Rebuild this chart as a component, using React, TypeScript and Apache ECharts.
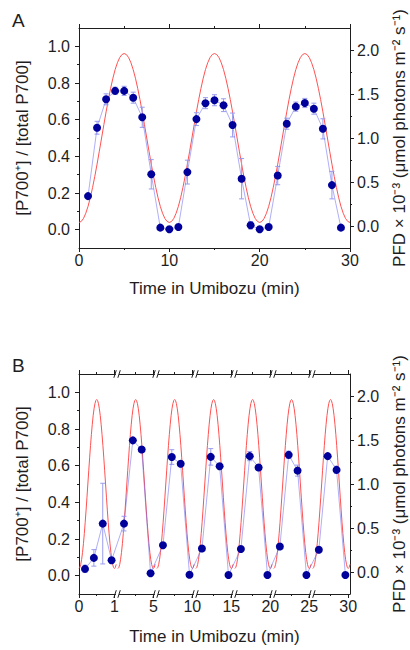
import React, { useEffect, useRef } from "react";
import * as echarts from "echarts";

// ---------- Panel A data ----------
const A_TIMES = [1, 2, 3, 4, 5, 6, 7, 8, 9, 10, 11, 12, 13, 14, 15, 16, 17, 18, 19, 20, 21, 22, 23, 24, 25, 26, 27, 28, 29];
const A_P700 = [0.183, 0.556, 0.711, 0.757, 0.757, 0.72, 0.613, 0.302, 0.011, 0.002, 0.015, 0.314, 0.603, 0.69, 0.706, 0.679, 0.571, 0.278, 0.024, 0.002, 0.015, 0.295, 0.578, 0.671, 0.691, 0.66, 0.55, 0.243, 0.011];
const A_ERR = [0.01, 0.035, 0.03, 0.02, 0.025, 0.03, 0.055, 0.08, 0.01, 0.01, 0.01, 0.065, 0.035, 0.03, 0.03, 0.035, 0.065, 0.11, 0.02, 0.01, 0.01, 0.05, 0.03, 0.025, 0.025, 0.03, 0.055, 0.075, 0.01];
const A_CYCLE_STARTS = [0, 10, 20];
const A_PERIOD = 10;

// light (PFD x 10^-3) over one cycle, sampled every 1/40 of the period
const LIGHT_PHASE_STEP = 0.025;
const LIGHT_PFD = [0.04, 0.052, 0.087, 0.145, 0.223, 0.321, 0.436, 0.564, 0.703, 0.85, 1.0, 1.15, 1.297, 1.436, 1.564, 1.679, 1.777, 1.855, 1.913, 1.948, 1.96, 1.948, 1.913, 1.855, 1.777, 1.679, 1.564, 1.436, 1.297, 1.15, 1.0, 0.85, 0.703, 0.564, 0.436, 0.321, 0.223, 0.145, 0.087, 0.052, 0.04];

// ---------- Panel B data ----------
const B_SEG_STARTS = [0, 4, 9, 14, 19, 24, 29];
const B_SEG_SPAN = 1.1;
const B_LAST_END = 30.05;
const B_PERIOD = 1;
const B_TIMES = [0.17, 0.42, 0.67, 0.92, 4.17, 4.42, 4.67, 4.92, 9.17, 9.42, 9.67, 9.92, 14.17, 14.42, 14.67, 14.92, 19.17, 19.42, 19.67, 19.92, 24.17, 24.42, 24.67, 24.92, 29.17, 29.42, 29.67, 29.92];
const B_P700 = [0.037, 0.097, 0.284, 0.084, 0.284, 0.738, 0.688, 0.013, 0.166, 0.647, 0.61, 0.005, 0.148, 0.648, 0.597, 0.004, 0.145, 0.652, 0.59, 0.004, 0.159, 0.659, 0.573, 0.004, 0.141, 0.652, 0.577, 0.004];
const B_ERR = [0.02, 0.045, 0.22, 0.015, 0.04, 0.01, 0.01, 0.005, 0.01, 0.04, 0.01, 0.005, 0.01, 0.045, 0.01, 0.005, 0.01, 0.025, 0.015, 0.005, 0.01, 0.02, 0.03, 0.005, 0.01, 0.01, 0.02, 0.005];
const B_TICK_TIMES = [0, 1, 5, 10, 15, 20, 25, 30];
const B_TICK_LABELS = ["0", "1", "5", "10", "15", "20", "25", "30"];

// ---------- axis ticks ----------
const LEFT_MAJOR = [0, 0.2, 0.4, 0.6, 0.8, 1.0];
const LEFT_MINOR = [0.1, 0.3, 0.5, 0.7, 0.9];
const RIGHT_MAJOR = [0, 0.5, 1.0, 1.5, 2.0];
const RIGHT_MINOR = [0.25, 0.75, 1.25, 1.75];

const X_TITLE = "Time in Umibozu (min)";
const LEFT_TITLE = "[P700\u207A] / [total P700]";
const RIGHT_TITLE = "PFD \u00D7 10\u207B\u00B3 (\u03BCmol photons m\u207B\u00B2 s\u207B\u00B9)";

const FONT = "'Liberation Sans', Arial, Helvetica, sans-serif";
const AXIS = "#1e1e1e";
const TEXT = "#1e1e1e";
const RED = "#ff5252";
const NAVY = "#00009a";
const BLUE_LINE = "rgba(110,110,240,0.55)";
const ERR_COLOR = "#9a9cee";

// map a time (min) to the broken B axis coordinate
function bU(t: number): number {
  let k = 0;
  for (let i = 0; i < B_SEG_STARTS.length; i++) if (t >= B_SEG_STARTS[i] - 1e-9) k = i;
  return k * B_SEG_SPAN + (t - B_SEG_STARTS[k]);
}
const B_U_MAX = bU(B_LAST_END);
const B_TICK_U = B_TICK_TIMES.map(bU);
const B_MID_U = B_SEG_STARTS.map((s) => bU(s + B_PERIOD / 2));
const B_BREAK_U = B_SEG_STARTS.slice(1).map((s, i) => (i + 1) * B_SEG_SPAN);

function lightA(): number[][] {
  const out: number[][] = [];
  A_CYCLE_STARTS.forEach((s, c) => {
    LIGHT_PFD.forEach((v, i) => {
      if (c > 0 && i === 0) return;
      out.push([s + i * LIGHT_PHASE_STEP * A_PERIOD, v]);
    });
  });
  return out;
}

function lightBSegment(start: number, last: boolean): number[][] {
  const out: number[][] = [];
  const n = LIGHT_PFD.length - 1;
  const extra = 2;
  for (let i = 0; i <= n + extra; i++) {
    const t = start + i * LIGHT_PHASE_STEP * B_PERIOD;
    if (last && t > B_LAST_END + 1e-9) break;
    const v = LIGHT_PFD[i <= n ? i : i - n];
    out.push([bU(Math.min(t, start + B_SEG_SPAN - 0.02)), v]);
  }
  return out;
}

function errRender(params: any, api: any) {
  const x = api.value(0);
  const y = api.value(1);
  const e = api.value(2);
  const top = api.coord([x, y + e]);
  const bot = api.coord([x, y - e]);
  const cap = 2.5;
  const style = { stroke: ERR_COLOR, lineWidth: 1, fill: "none" };
  return {
    type: "group",
    children: [
      { type: "line", shape: { x1: top[0], y1: top[1], x2: bot[0], y2: bot[1] }, style },
      { type: "line", shape: { x1: top[0] - cap, y1: top[1], x2: top[0] + cap, y2: top[1] }, style },
      { type: "line", shape: { x1: bot[0] - cap, y1: bot[1], x2: bot[0] + cap, y2: bot[1] }, style },
    ],
  };
}

function breakRender(params: any, api: any) {
  const u = api.value(0);
  const b = api.coord([u, -0.1]);
  const t = api.coord([u, 1.1]);
  const children: any[] = [];
  [b, t].forEach((p) => {
    const x = p[0] - 0.5;
    const y = p[1];
    const s = { stroke: AXIS, lineWidth: 1, fill: "none" };
    children.push({ type: "rect", shape: { x: x - 1.6, y: y - 2, width: 3.2, height: 4 }, style: { fill: "#fff", stroke: "none" } });
    children.push({ type: "line", shape: { x1: x - 3.6, y1: y + 3.8, x2: x - 1.2, y2: y - 3.8 }, style: s });
    children.push({ type: "line", shape: { x1: x + 0.4, y1: y + 3.8, x2: x + 2.8, y2: y - 3.8 }, style: s });
  });
  return { type: "group", children };
}

const axisLine = { show: true, onZero: false, lineStyle: { color: AXIS, width: 1 } };
const noLine = { show: false, onZero: false };
const tickStyle = { color: AXIS, width: 1 };
const labelStyle = { fontSize: 16, color: TEXT, fontFamily: FONT };
const nameStyle = { fontSize: 17, color: TEXT, fontFamily: FONT };

function yAxes(grid: number) {
  return [
    {
      type: "value", gridIndex: grid, position: "left", min: -0.1, max: 1.1,
      axisLine, splitLine: { show: false },
      axisTick: { show: true, inside: false, length: 4, lineStyle: tickStyle, customValues: LEFT_MAJOR },
      axisLabel: { ...labelStyle, margin: 9, customValues: LEFT_MAJOR, formatter: (v: number) => v.toFixed(1) },
      name: LEFT_TITLE, nameLocation: "middle", nameRotate: 90, nameGap: 48, nameTextStyle: nameStyle,
    },
    {
      type: "value", gridIndex: grid, position: "left", min: -0.1, max: 1.1,
      axisLine: noLine, splitLine: { show: false }, axisLabel: { show: false },
      axisTick: { show: true, inside: false, length: 2, lineStyle: tickStyle, customValues: LEFT_MINOR },
    },
    {
      type: "value", gridIndex: grid, position: "right", min: -0.25, max: 2.25,
      axisLine, splitLine: { show: false },
      axisTick: { show: true, inside: false, length: 4, lineStyle: tickStyle, customValues: RIGHT_MAJOR },
      axisLabel: { ...labelStyle, margin: 7, customValues: RIGHT_MAJOR, formatter: (v: number) => v.toFixed(1) },
      name: RIGHT_TITLE, nameLocation: "middle", nameRotate: 90, nameGap: 41, nameTextStyle: nameStyle,
    },
    {
      type: "value", gridIndex: grid, position: "right", min: -0.25, max: 2.25,
      axisLine: noLine, splitLine: { show: false }, axisLabel: { show: false },
      axisTick: { show: true, inside: false, length: 2, lineStyle: tickStyle, customValues: RIGHT_MINOR },
    },
  ];
}

function buildOption(): any {
  const labelForU = (v: number) => {
    const i = B_TICK_U.findIndex((u) => Math.abs(u - v) < 1e-6);
    return i >= 0 ? B_TICK_LABELS[i] : "";
  };
  const xA = (pos: string, withLabel: boolean) => ({
    type: "value", gridIndex: 0, position: pos, min: 0, max: 30, interval: 10,
    axisLine, splitLine: { show: false }, minorSplitLine: { show: false },
    axisTick: { show: true, inside: false, length: 4, lineStyle: tickStyle },
    minorTick: { show: true, splitNumber: 2, length: 2, lineStyle: tickStyle },
    axisLabel: withLabel ? { ...labelStyle, margin: 4 } : { show: false },
    ...(withLabel ? { name: X_TITLE, nameLocation: "middle", nameGap: 32, nameTextStyle: nameStyle } : {}),
  });
  const xB = (pos: string, withLabel: boolean) => [
    {
      type: "value", gridIndex: 1, position: pos, min: 0, max: B_U_MAX,
      axisLine, splitLine: { show: false },
      axisTick: { show: true, inside: false, length: 4, lineStyle: tickStyle, customValues: B_TICK_U },
      axisLabel: withLabel ? { ...labelStyle, margin: 4, customValues: B_TICK_U, formatter: labelForU } : { show: false },
      ...(withLabel ? { name: X_TITLE, nameLocation: "middle", nameGap: 34, nameTextStyle: nameStyle } : {}),
    },
    {
      type: "value", gridIndex: 1, position: pos, min: 0, max: B_U_MAX,
      axisLine: noLine, splitLine: { show: false }, axisLabel: { show: false },
      axisTick: { show: true, inside: false, length: 2, lineStyle: tickStyle, customValues: B_MID_U },
    },
  ];

  const series: any[] = [];
  // Panel A
  series.push({
    type: "line", xAxisIndex: 0, yAxisIndex: 2, data: lightA(), symbol: "none",
    lineStyle: { color: RED, width: 1 }, z: 2, silent: true,
  });
  series.push({
    type: "custom", xAxisIndex: 0, yAxisIndex: 0, renderItem: errRender, z: 3, silent: true,
    encode: { x: 0, y: 1 },
    data: A_TIMES.map((t, i) => [t, A_P700[i], A_ERR[i]]),
  });
  series.push({
    type: "line", xAxisIndex: 0, yAxisIndex: 0, data: A_TIMES.map((t, i) => [t, A_P700[i]]),
    symbol: "circle", symbolSize: 8, itemStyle: { color: NAVY }, lineStyle: { color: BLUE_LINE, width: 1 }, z: 4, silent: true,
  });
  // Panel B
  B_SEG_STARTS.forEach((s, k) => {
    series.push({
      type: "line", xAxisIndex: 2, yAxisIndex: 6, data: lightBSegment(s, k === B_SEG_STARTS.length - 1), symbol: "none",
      lineStyle: { color: RED, width: 1 }, z: 2, silent: true,
    });
  });
  series.push({
    type: "custom", xAxisIndex: 2, yAxisIndex: 4, renderItem: errRender, z: 3, silent: true,
    encode: { x: 0, y: 1 },
    data: B_TIMES.map((t, i) => [bU(t), B_P700[i], B_ERR[i]]),
  });
  series.push({
    type: "line", xAxisIndex: 2, yAxisIndex: 4, data: B_TIMES.map((t, i) => [bU(t), B_P700[i]]),
    symbol: "circle", symbolSize: 8, itemStyle: { color: NAVY }, lineStyle: { color: BLUE_LINE, width: 1 }, z: 4, silent: true,
  });
  series.push({
    type: "custom", xAxisIndex: 2, yAxisIndex: 4, renderItem: breakRender, z: 10, silent: true, clip: false,
    encode: { x: 0, y: 1 },
    data: B_BREAK_U.map((u) => [u, 0]),
  });

  return {
    animation: false,
    backgroundColor: "#ffffff",
    textStyle: { fontFamily: FONT },
    grid: [
      { left: 79, top: 28, width: 271, height: 220, outerBoundsMode: "none", containLabel: false },
      { left: 79, top: 374, width: 271, height: 220, outerBoundsMode: "none", containLabel: false },
    ],
    xAxis: [xA("bottom", true), xA("top", false), ...xB("bottom", true), ...xB("top", false)],
    yAxis: [...yAxes(0), ...yAxes(1)],
    graphic: [
      { type: "text", left: 12, top: 11, style: { text: "A", fontSize: 19, fill: TEXT, fontFamily: FONT } },
      { type: "text", left: 12, top: 356, style: { text: "B", fontSize: 19, fill: TEXT, fontFamily: FONT } },
    ],
    series,
  };
}

export default function App() {
  const ref = useRef<HTMLDivElement>(null);
  useEffect(() => {
    const chart = echarts.init(ref.current!, null, { renderer: "svg" });
    chart.setOption(buildOption());
    return () => chart.dispose();
  }, []);
  return (
    <div
      ref={ref}
      style={{ position: "fixed", left: 0, top: 0, width: 410, height: 650, background: "#fff" }}
    />
  );
}
